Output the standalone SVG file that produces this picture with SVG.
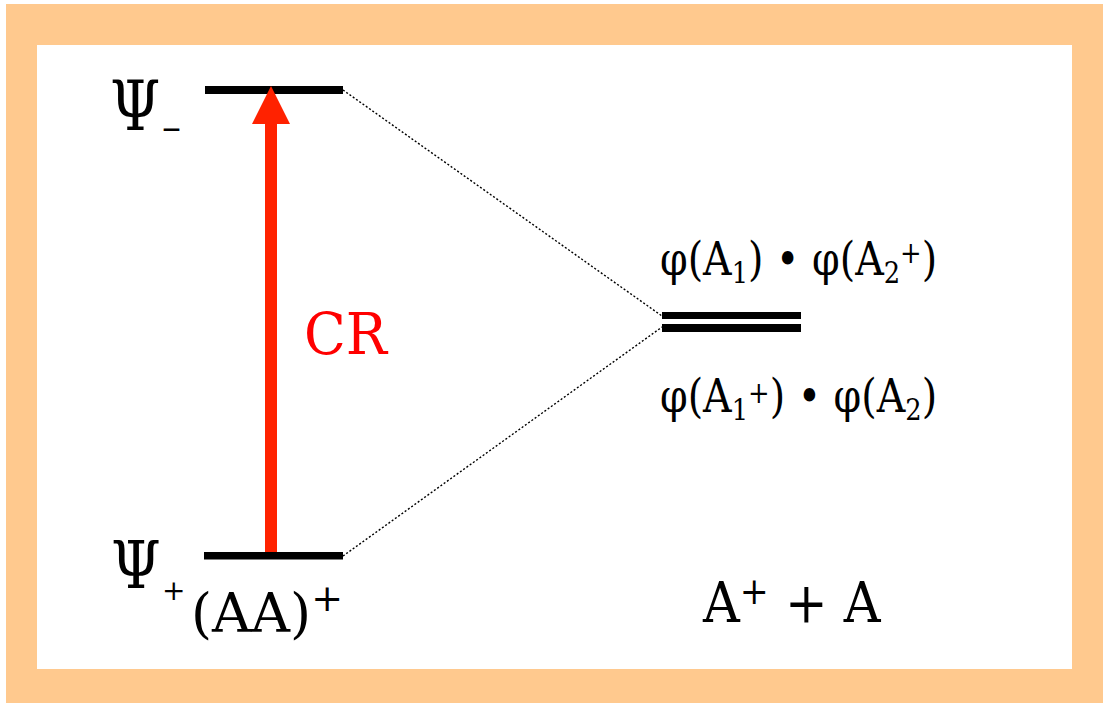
<svg xmlns="http://www.w3.org/2000/svg" width="1103" height="703" viewBox="0 0 1103 703">
  <style>
    .t { font-family: "DejaVu Serif", "Liberation Serif", "Times New Roman", serif; fill: #000; }
    .cr { font-family: "DejaVu Serif", "Liberation Serif", "Times New Roman", serif; fill: #FF0000; }
    .bar { fill: #000; }
    .dot { stroke: #000; stroke-width: 1.4; stroke-dasharray: 2 2; fill: none; }
  </style>
  <rect x="6" y="4" width="1097" height="699" fill="#FFC98E"/>
  <rect x="37" y="45" width="1035" height="624" fill="#FFFFFF"/>

  <g id="connectors">
    <line class="dot" x1="343" y1="90" x2="662" y2="316"/>
    <line class="dot" x1="343" y1="556" x2="662" y2="327"/>
  </g>

  <g id="level-psi-minus">
    <rect class="bar" x="205" y="86" width="138" height="8"/>
    <g transform="translate(110 130) scale(0.82 1)">
      <text class="t" x="0" y="0" font-size="70">Ψ</text>
    </g>
    <text class="t" x="162" y="140" font-size="38">–</text>
  </g>

  <g id="level-psi-plus">
    <rect class="bar" x="204" y="552" width="139" height="7.5"/>
    <g transform="translate(111 588) scale(0.86 1)">
      <text class="t" x="0" y="0" font-size="66">Ψ</text>
    </g>
    <text class="t" x="162" y="600" font-size="28">+</text>
    <text class="t" x="191" y="632" font-size="54">(AA)<tspan font-size="38" dy="-21">+</tspan></text>
  </g>

  <g id="arrow-cr">
    <rect x="265" y="120" width="12" height="432" fill="#FF2200"/>
    <polygon points="271,86 252,124 290,124" fill="#FF2200"/>
    <text class="cr" x="304" y="354" font-size="58" textLength="83" lengthAdjust="spacingAndGlyphs">CR</text>
  </g>

  <g id="level-degenerate">
    <rect class="bar" x="662" y="312" width="139" height="7"/>
    <rect class="bar" x="662" y="324" width="139" height="8"/>
    <g transform="translate(660 275) scale(0.86 1)">
      <text class="t" font-size="46" x="0" y="0">φ(A<tspan font-size="30" dy="8">1</tspan><tspan dy="-8">) • φ(A</tspan><tspan font-size="30" dy="8">2</tspan><tspan font-size="30" dy="-20">+</tspan><tspan dy="12">)</tspan></text>
    </g>
    <g transform="translate(660 412) scale(0.86 1)">
      <text class="t" font-size="46" x="0" y="0">φ(A<tspan font-size="30" dy="8">1</tspan><tspan font-size="30" dy="-17">+</tspan><tspan dy="9">) • φ(A</tspan><tspan font-size="30" dy="8">2</tspan><tspan dy="-8">)</tspan></text>
    </g>
  </g>

  <g id="label-a-plus-a" transform="translate(703 622) scale(0.91 1)">
    <text class="t" x="0" y="0" font-size="56">A<tspan font-size="38" dy="-18">+</tspan><tspan dy="18"> + A</tspan></text>
  </g>
</svg>
